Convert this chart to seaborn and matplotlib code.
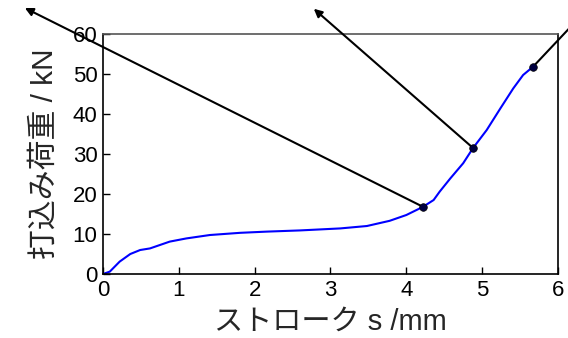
import matplotlib
matplotlib.use("Agg")
import matplotlib.pyplot as plt
import seaborn as sns
import pandas as pd

# Load-stroke curve for driving
stroke = [0.0, 0.09, 0.22, 0.36, 0.49, 0.62, 0.75, 0.88, 1.10, 1.41, 1.81, 2.16, 2.6,
          3.13, 3.48, 3.78, 4.0, 4.22, 4.36, 4.44, 4.58, 4.75, 4.88, 5.06, 5.24,
          5.41, 5.54, 5.67]
load = [0.0, 0.6, 3.1, 5.0, 6.0, 6.4, 7.25, 8.1, 8.9, 9.75, 10.3, 10.6, 10.9,
        11.4, 12.0, 13.3, 14.75, 16.8, 18.5, 20.6, 23.9, 27.7, 31.5, 36.0, 41.4,
        46.4, 49.75, 51.8]

# Marked points and where their leader arrows point
mark_s = [4.22, 4.88, 5.67]
mark_f = [16.8, 31.5, 51.8]
arrow_s = [-1.03, 2.78, 6.6]
arrow_f = [66.5, 66.3, 70.5]

xticks = [0, 1, 2, 3, 4, 5, 6]
yticks = [0, 10, 20, 30, 40, 50, 60]

sns.set_style("ticks")
plt.rcParams["font.family"] = ["Liberation Sans", "Noto Sans CJK JP"]

fig = plt.figure(figsize=(5.68, 3.38), dpi=100)
ax = fig.add_axes([0.1813, 0.1893, 0.8011, 0.7101])

df = pd.DataFrame({"s": stroke, "f": load})
sns.lineplot(data=df, x="s", y="f", ax=ax, color="#0000ff", linewidth=1.5, sort=False)

for xs, ys, xe, ye in zip(mark_s, mark_f, arrow_s, arrow_f):
    ax.annotate("", xy=(xe, ye), xytext=(xs, ys), annotation_clip=False,
                arrowprops=dict(arrowstyle="-|>", color="black", lw=1.5,
                                mutation_scale=12, shrinkA=0, shrinkB=0))

mdf = pd.DataFrame({"s": mark_s, "f": mark_f})
sns.scatterplot(data=mdf, x="s", y="f", ax=ax, color="#000040", s=30,
                edgecolor="black", linewidth=0.5, zorder=5)

ax.set_xlim(0, 6)
ax.set_ylim(0, 60)
ax.set_xticks(xticks)
ax.set_yticks(yticks)
ax.tick_params(direction="in", length=5, width=1, labelsize=16, pad=4, colors="black")
for side in ["left", "bottom", "right"]:
    ax.spines[side].set_color("black")
    ax.spines[side].set_linewidth(1.2)
ax.spines["top"].set_color("#555555")
ax.spines["top"].set_linewidth(1.2)

ax.set_xlabel("ストローク s /mm", fontsize=21, labelpad=5)
ax.set_ylabel("打込み荷重 / kN", fontsize=21.5, labelpad=10)

fig.savefig("out.png", dpi=100)
